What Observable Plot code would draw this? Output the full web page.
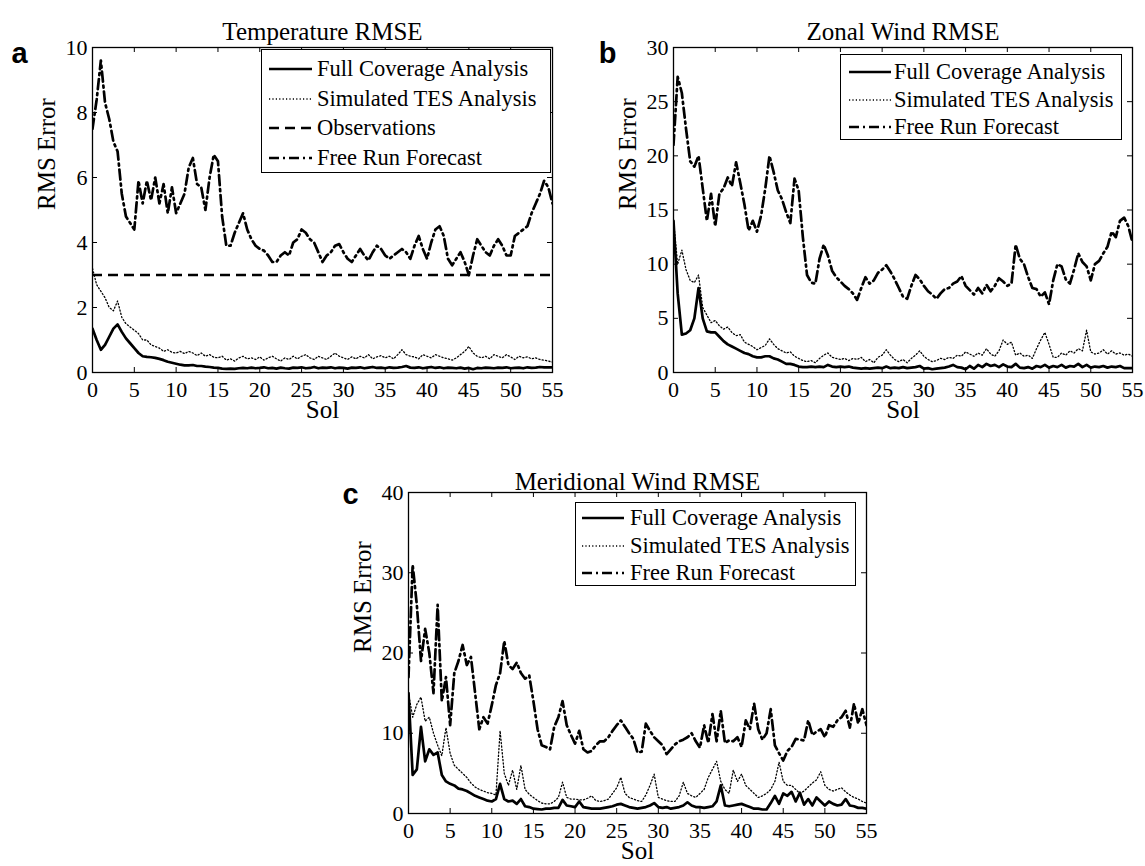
<!DOCTYPE html>
<html><head><meta charset="utf-8">
<script src="https://cdn.jsdelivr.net/npm/d3@7"></script>
<script src="https://cdn.jsdelivr.net/npm/@observablehq/plot@0.6"></script>
<style>
html,body{margin:0;padding:0;background:#fff;}
#page{position:relative;width:1145px;height:866px;overflow:hidden;background:#fff;font-family:"Liberation Serif","Times New Roman",serif;color:#000;}
.panel{position:absolute;}
.legend{position:absolute;background:#fff;border:1.4px solid #000;box-sizing:border-box;}
.legend .row{position:absolute;left:0;height:24px;white-space:nowrap;font-size:22.5px;line-height:24px;}
.legend .row svg{position:absolute;left:0;top:0;}
.legend .row span{position:absolute;top:0;}
</style></head><body><div id="page"></div><script>
// ---- tick labels ----
const xTicks = [0, 5, 10, 15, 20, 25, 30, 35, 40, 45, 50, 55];
const yTicksTemp = [0, 2, 4, 6, 8, 10];
const yTicksZonal = [0, 5, 10, 15, 20, 25, 30];
const yTicksMerid = [0, 10, 20, 30, 40];
const seriesNames = ["Full Coverage Analysis", "Simulated TES Analysis", "Observations", "Free Run Forecast"];

// ---- values every half sol, sol 0 .. 55 ----
const freeTemp = [
 7.5, 8.4, 9.6, 8.3, 7.8, 7.1, 6.8, 5.5, 4.8, 4.6,
 4.4, 5.9, 5.2, 5.9, 5.3, 6.0, 5.2, 5.8, 4.9, 5.7,
 4.9, 5.2, 5.5, 6.3, 6.6, 5.8, 5.7, 5.0, 6.0, 6.7,
 6.5, 4.8, 3.9, 3.9, 4.3, 4.6, 4.9, 4.4, 4.1, 3.9,
 3.8, 3.75, 3.6, 3.4, 3.4, 3.6, 3.7, 3.6, 4.0, 4.1,
 4.4, 4.3, 4.1, 4.0, 3.7, 3.4, 3.6, 3.7, 3.9, 3.95,
 3.7, 3.5, 3.4, 3.6, 3.8, 3.6, 3.45, 3.7, 3.9, 3.8,
 3.6, 3.5, 3.6, 3.7, 3.8, 3.7, 3.5, 3.9, 4.2, 3.8,
 3.5, 4.0, 4.4, 4.5, 4.2, 3.5, 3.3, 3.5, 3.7, 3.4,
 3.0, 3.6, 4.1, 3.9, 3.7, 3.6, 3.9, 4.1, 3.9, 3.6,
 3.6, 4.2, 4.3, 4.4, 4.5, 4.9, 5.2, 5.5, 5.9, 5.7,
 5.2];
const simTemp = [
 3.2, 2.7, 2.5, 2.3, 2.0, 1.9, 2.2, 1.7, 1.5, 1.4,
 1.3, 1.2, 1.0, 1.0, 0.85, 0.8, 0.75, 0.65, 0.7, 0.62,
 0.6, 0.65, 0.58, 0.65, 0.6, 0.52, 0.6, 0.5, 0.55, 0.47,
 0.45, 0.5, 0.38, 0.42, 0.35, 0.45, 0.5, 0.42, 0.45, 0.4,
 0.48, 0.38, 0.45, 0.5, 0.42, 0.35, 0.45, 0.4, 0.5, 0.42,
 0.5, 0.55, 0.45, 0.4, 0.5, 0.45, 0.4, 0.5, 0.6, 0.5,
 0.45, 0.4, 0.48, 0.42, 0.5, 0.45, 0.55, 0.42, 0.48, 0.52,
 0.45, 0.5, 0.42, 0.55, 0.7, 0.55, 0.5, 0.48, 0.42, 0.55,
 0.5, 0.45, 0.55, 0.5, 0.45, 0.42, 0.38, 0.45, 0.55, 0.65,
 0.8, 0.6, 0.5, 0.45, 0.5, 0.42, 0.55, 0.5, 0.45, 0.55,
 0.48, 0.4, 0.5, 0.45, 0.48, 0.42, 0.45, 0.4, 0.38, 0.35,
 0.32];
const fullTemp = [
 1.35, 1.0, 0.7, 0.85, 1.1, 1.35, 1.48, 1.25, 1.05, 0.9,
 0.75, 0.6, 0.5, 0.48, 0.47, 0.45, 0.42, 0.38, 0.33, 0.3,
 0.27, 0.24, 0.22, 0.22, 0.23, 0.2, 0.2, 0.18, 0.17, 0.15,
 0.14, 0.12, 0.11, 0.12, 0.11, 0.13, 0.14, 0.13, 0.15, 0.13,
 0.14, 0.16, 0.13, 0.14, 0.12, 0.15, 0.13, 0.12, 0.15, 0.14,
 0.16, 0.13, 0.14, 0.17, 0.13, 0.15, 0.14, 0.16, 0.13, 0.15,
 0.14, 0.12, 0.15, 0.14, 0.16, 0.13, 0.15, 0.17, 0.14, 0.15,
 0.13, 0.16, 0.14, 0.15, 0.17, 0.2, 0.15, 0.14, 0.16, 0.13,
 0.15, 0.17, 0.14, 0.16, 0.13, 0.15, 0.14, 0.13, 0.15, 0.12,
 0.14, 0.1, 0.14, 0.13, 0.15, 0.14, 0.13, 0.15, 0.14, 0.16,
 0.13, 0.14, 0.15, 0.13, 0.16, 0.14, 0.15, 0.17, 0.16, 0.16,
 0.16];
const obsTemp = 3.0;

const freeZonal = [
 21, 27.3, 25.8, 22.5, 19.5, 19.0, 20.0, 17.0, 14.0, 16.5,
 13.5, 16.5, 17.0, 18.0, 17.2, 19.4, 17.5, 15.5, 13.1, 14.0,
 13.0, 14.5, 17.0, 20.0, 18.5, 16.8, 16.0, 14.8, 13.8, 17.9,
 16.8, 12.5, 9.0, 8.3, 8.2, 10.5, 11.8, 10.8, 9.4, 8.8,
 8.4, 8.0, 7.7, 7.3, 6.7, 7.8, 8.8, 8.2, 8.5, 9.2,
 9.5, 9.9, 9.3, 8.6, 7.8, 7.0, 6.8, 8.0, 9.0, 8.6,
 8.0, 7.5, 7.2, 6.8, 7.3, 7.7, 7.8, 8.2, 8.4, 8.9,
 8.0, 7.6, 7.2, 7.8, 7.3, 8.1, 7.5, 8.0, 8.7, 8.4,
 8.0, 8.2, 11.8, 10.5, 10.0, 8.8, 7.8, 7.7, 7.0, 7.4,
 6.3, 8.5, 10.0, 9.8, 8.6, 8.2, 9.5, 11.0, 10.2, 9.8,
 8.5, 10.0, 10.3, 11.0, 11.6, 13.0, 12.5, 14.0, 14.3, 13.5,
 12.0];
const simZonal = [
 14, 10, 11.3, 9.5, 8.5, 8.3, 9.0, 6.0, 5.3, 4.6,
 4.8, 4.3, 4.0, 4.2, 3.7, 3.4, 3.5, 2.8, 2.6, 2.4,
 2.1, 2.3, 2.5, 3.1, 2.6, 2.2, 2.0, 1.8, 1.9, 1.5,
 1.3, 1.1, 1.0, 1.1, 0.9, 1.3, 1.6, 1.8, 1.4, 1.3,
 1.2, 1.3, 1.1, 1.3, 1.2, 1.4, 1.0, 1.2, 0.9, 1.4,
 1.6, 2.1, 1.6, 1.2, 1.0, 1.2, 0.9, 1.3, 1.6, 2.0,
 1.5, 1.2, 1.0, 1.1, 1.3, 1.2, 1.4, 1.3, 1.6, 1.5,
 1.9, 1.7, 1.5, 1.8, 1.6, 2.2, 1.7, 1.5, 2.0, 3.0,
 2.6, 2.8, 1.6, 1.8, 1.5, 1.6, 1.3, 2.2, 3.0, 3.7,
 2.6, 1.4, 1.4, 1.8, 1.6, 2.0, 1.8, 2.2, 2.0, 3.9,
 1.9, 1.7, 1.8, 2.1, 1.7, 2.0, 1.7, 1.8, 1.6, 1.7,
 1.5];
const fullZonal = [
 14, 7.3, 3.5, 3.6, 3.9, 5.0, 7.8, 5.0, 3.8, 3.7,
 3.7, 3.3, 2.9, 2.6, 2.4, 2.2, 2.0, 1.8, 1.7, 1.5,
 1.4, 1.4, 1.5, 1.5, 1.3, 1.2, 1.0, 0.8, 0.8, 0.7,
 0.55, 0.5, 0.5, 0.55, 0.5, 0.55, 0.5, 0.7, 0.55, 0.5,
 0.55, 0.5, 0.55, 0.45, 0.4, 0.35, 0.4, 0.35, 0.4, 0.45,
 0.4, 0.55, 0.4, 0.45, 0.4, 0.5, 0.4, 0.45, 0.5, 0.6,
 0.35, 0.4, 0.3, 0.35, 0.4, 0.45, 0.55, 0.7, 0.5, 0.45,
 0.3, 0.6, 0.35, 0.7, 0.5, 0.8, 0.6, 0.7, 0.5, 0.75,
 0.55, 0.5, 0.8, 0.45, 0.4, 0.5, 0.35, 0.6, 0.5, 0.7,
 0.45, 0.6, 0.5, 0.7, 0.45, 0.6, 0.55, 0.8, 0.5, 0.7,
 0.45, 0.55, 0.5, 0.6, 0.45, 0.55, 0.5, 0.6, 0.4, 0.4,
 0.4];

const freeMerid = [
 17, 31, 26, 19, 23, 20, 15, 26, 14, 17,
 11, 17.5, 19, 21, 18.5, 19.5, 15, 10.5, 12, 11.2,
 13.5, 16, 17.5, 21.5, 18.5, 18, 18.8, 17.5, 16.8, 17.2,
 14, 10.5, 8.5, 8.3, 8.0, 10.8, 12, 14, 11, 9.8,
 8.7, 10.3, 8.0, 7.6, 7.8, 8.5, 9.0, 9.0, 9.5, 10.3,
 11.0, 11.6, 10.8, 10.0, 9.3, 7.6, 7.7, 11.2, 10.3, 9.5,
 9.0, 8.5, 7.4, 8.0, 8.6, 9.0, 9.2, 9.5, 10.0, 9.0,
 8.2, 11.0, 8.8, 12.4, 9.0, 12.8, 8.8, 9.1, 9.0, 9.5,
 8.3, 11.6, 10.5, 13.7, 10.5, 9.2, 10, 13.0, 8.5, 7.5,
 6.6, 7.8, 8.3, 9.3, 9.2, 9.1, 11.6, 9.8, 10.2, 10.5,
 9.5, 11.0, 10.8, 11.6, 12.0, 12.8, 10.7, 13.7, 11.2, 13.0,
 11.0];
const simMerid = [
 15, 12, 13.6, 14.5, 11.5, 12, 10, 8.5, 7.2, 10.7,
 7.5, 6.0, 5.5, 5.0, 4.5, 3.8, 3.3, 3.0, 2.8, 2.6,
 2.5, 2.3, 10.3, 5.0, 3.5, 5.4, 3.0, 6.0, 3.0, 2.4,
 2.0, 1.6, 1.3, 1.2, 1.2, 1.5, 2.0, 3.9, 2.0, 1.8,
 1.8, 1.7, 1.7, 1.9, 2.2, 1.6, 1.5, 1.6, 1.8, 2.5,
 3.2, 4.5, 2.5, 2.0, 1.8, 1.6, 1.5, 2.3, 3.5, 4.9,
 2.0, 1.8, 1.6, 1.5, 1.5, 2.2, 3.9, 2.5, 2.2, 2.0,
 2.5, 3.0, 4.5, 5.5, 6.5, 4.0, 3.0, 2.5, 5.4, 4.0,
 4.9, 3.5, 3.0, 2.5, 2.0, 2.2, 2.5, 3.0, 4.0, 6.4,
 4.0, 3.5, 3.5, 3.0, 2.5, 2.8, 3.3, 3.8, 4.2, 5.2,
 3.5, 3.0, 2.8, 3.0, 3.2, 2.7, 2.3, 2.0, 1.8, 1.5,
 1.3];
const fullMerid = [
 15, 4.8, 5.5, 10.8, 6.5, 8.0, 7.3, 7.6, 4.8, 4.0,
 3.7, 3.5, 3.1, 3.0, 2.8, 2.5, 2.2, 2.0, 1.8, 1.6,
 1.5, 1.8, 3.7, 1.8, 1.5, 1.6, 1.2, 1.8, 0.9, 0.8,
 0.6, 0.55, 0.5, 0.6, 0.6, 0.7, 0.7, 1.7, 1.0, 0.9,
 0.8, 1.5, 0.8, 0.7, 0.6, 0.6, 0.6, 0.7, 0.8, 0.9,
 1.1, 1.2, 1.0, 0.8, 0.7, 0.6, 0.7, 0.8, 1.0, 1.3,
 0.8, 0.7, 0.8, 0.6, 0.7, 0.8, 1.0, 1.4, 1.0, 0.8,
 0.8, 0.7, 0.8, 0.9, 1.5, 3.5, 1.0, 0.9, 1.0, 1.1,
 1.2, 1.0, 0.8, 0.6, 0.6, 0.5, 0.5, 1.3, 2.2, 1.2,
 2.5, 2.2, 2.7, 1.5, 2.6, 1.1, 1.8, 1.0, 2.0, 1.5,
 1.0, 1.5, 1.2, 1.0, 1.1, 1.8, 1.0, 0.9, 0.7, 0.7,
 0.6];

// ---- styles ----
const STY = {
  full: {strokeWidth: 2.7, dash: null},
  sim:  {strokeWidth: 1.3, dash: "1.2,2.2"},
  obs:  {strokeWidth: 2.6, dash: "10,6"},
  free: {strokeWidth: 2.7, dash: "10,4,2,4"}
};
const serif = '"Liberation Serif","Times New Roman",serif';
const sans = '"Liberation Sans",Arial,sans-serif';

function toRows(vals) { return vals.map((v, i) => ({sol: i * 0.5, value: v})); }

const page = document.getElementById("page");

function panel(cfg) {
  const m = cfg.margin;
  const W = cfg.width - m.left - m.right;
  const H = cfg.height - m.top - m.bottom;
  const marks = [];
  for (const s of cfg.series) {
    const st = STY[s.kind];
    marks.push(Plot.line(toRows(s.values), {x: "sol", y: "value", stroke: "#000", strokeWidth: st.strokeWidth, strokeDasharray: st.dash, strokeLinejoin: "round", clip: true}));
    if (s.kind === "full" && cfg.obs != null) {
      marks.push(Plot.ruleY([cfg.obs], {y: d => d, stroke: "#000", strokeWidth: STY.obs.strokeWidth, strokeDasharray: STY.obs.dash}));
    }
  }
  // inward ticks on all four sides
  marks.push(Plot.tickX(xTicks, {x: d => d, stroke: "#000", insetTop: H - 5}));
  marks.push(Plot.tickX(xTicks, {x: d => d, stroke: "#000", insetBottom: H - 5}));
  marks.push(Plot.tickY(cfg.yTicks, {y: d => d, stroke: "#000", insetRight: W - 5}));
  marks.push(Plot.tickY(cfg.yTicks, {y: d => d, stroke: "#000", insetLeft: W - 5}));
  marks.push(Plot.frame({stroke: "#000", strokeWidth: 1.3}));
  marks.push(Plot.axisX(xTicks, {tickSize: 0, tickPadding: 9, fontSize: 22, label: null}));
  marks.push(Plot.axisY(cfg.yTicks, {tickSize: 0, tickPadding: 5, fontSize: 22, label: null}));
  marks.push(Plot.text([cfg.title], {text: d => d, frameAnchor: "top", dy: cfg.titleDy, fontSize: 25, fontFamily: serif, fill: "#000"}));
  marks.push(Plot.text(["Sol"], {text: d => d, frameAnchor: "bottom", dy: cfg.solDy, fontSize: 25, fontFamily: serif, fill: "#000"}));
  marks.push(Plot.text(["RMS Error"], {text: d => d, frameAnchor: "left", dx: -46, rotate: -90, fontSize: 25, fontFamily: serif, fill: "#000"}));
  marks.push(Plot.text([cfg.letter], {text: d => d, frameAnchor: "top-left", dx: cfg.letterDx, dy: cfg.letterDy, fontSize: 29, fontWeight: "bold", fontFamily: sans, textAnchor: "middle", fill: "#000"}));

  const svg = Plot.plot({
    width: cfg.width, height: cfg.height,
    marginTop: m.top, marginRight: m.right, marginBottom: m.bottom, marginLeft: m.left,
    x: {domain: [0, 55]},
    y: {domain: cfg.yDomain},
    style: {fontFamily: serif, fontSize: "22px", color: "#000", background: "transparent", overflow: "visible"},
    marks
  });
  const div = document.createElement("div");
  div.className = "panel";
  div.style.left = cfg.left + "px"; div.style.top = cfg.top + "px";
  div.style.width = cfg.width + "px"; div.style.height = cfg.height + "px";
  div.appendChild(svg);
  page.appendChild(div);
}

function legend(cfg) {
  const box = document.createElement("div");
  box.className = "legend";
  Object.assign(box.style, {left: cfg.left + "px", top: cfg.top + "px", width: cfg.width + "px", height: cfg.height + "px"});
  cfg.items.forEach((it, i) => {
    const row = document.createElement("div");
    row.className = "row";
    row.style.top = (cfg.first + i * cfg.gap - 12) + "px";
    row.style.width = (cfg.width - 4) + "px";
    const st = STY[it.kind];
    const ns = "http://www.w3.org/2000/svg";
    const s = document.createElementNS(ns, "svg");
    s.setAttribute("width", cfg.textX); s.setAttribute("height", 24);
    const ln = document.createElementNS(ns, "line");
    ln.setAttribute("x1", cfg.lineX0); ln.setAttribute("x2", cfg.lineX1);
    ln.setAttribute("y1", 12); ln.setAttribute("y2", 12);
    ln.setAttribute("stroke", "#000"); ln.setAttribute("stroke-width", st.strokeWidth);
    if (st.dash) ln.setAttribute("stroke-dasharray", st.dash);
    s.appendChild(ln);
    row.appendChild(s);
    const sp = document.createElement("span");
    sp.textContent = it.name;
    sp.style.left = cfg.textX + "px";
    row.appendChild(sp);
    box.appendChild(row);
  });
  page.appendChild(box);
}

panel({left: 0, top: 0, width: 560, height: 430, margin: {top: 47, right: 8, bottom: 58, left: 92},
  yDomain: [0, 10], yTicks: yTicksTemp, title: "Temperature RMSE", titleDy: -25, solDy: 45, letter: "a", letterDx: -73, letterDy: -5,
  obs: obsTemp,
  series: [{kind: "full", values: fullTemp}, {kind: "sim", values: simTemp}, {kind: "free", values: freeTemp}]});
panel({left: 580, top: 0, width: 565, height: 430, margin: {top: 47, right: 13, bottom: 58, left: 93},
  yDomain: [0, 30], yTicks: yTicksZonal, title: "Zonal Wind RMSE", titleDy: -25, solDy: 45, letter: "b", letterDx: -66, letterDy: -5,
  series: [{kind: "full", values: fullZonal}, {kind: "sim", values: simZonal}, {kind: "free", values: freeZonal}]});
panel({left: 330, top: 440, width: 560, height: 426, margin: {top: 52, right: 24, bottom: 53, left: 78},
  yDomain: [0, 40], yTicks: yTicksMerid, title: "Meridional Wind RMSE", titleDy: -20, solDy: 45, letter: "c", letterDx: -58, letterDy: -9,
  series: [{kind: "full", values: fullMerid}, {kind: "sim", values: simMerid}, {kind: "free", values: freeMerid}]});

legend({left: 261, top: 49, width: 290, height: 124, first: 19, gap: 29.7, lineX0: 7, lineX1: 50, textX: 55,
  items: [{kind: "full", name: seriesNames[0]}, {kind: "sim", name: seriesNames[1]}, {kind: "obs", name: seriesNames[2]}, {kind: "free", name: seriesNames[3]}]});
legend({left: 840, top: 54, width: 282, height: 86, first: 17, gap: 27.5, lineX0: 8, lineX1: 50, textX: 53,
  items: [{kind: "full", name: seriesNames[0]}, {kind: "sim", name: seriesNames[1]}, {kind: "free", name: seriesNames[3]}]});
legend({left: 575, top: 502, width: 281, height: 84, first: 15, gap: 27.5, lineX0: 6, lineX1: 48, textX: 54,
  items: [{kind: "full", name: seriesNames[0]}, {kind: "sim", name: seriesNames[1]}, {kind: "free", name: seriesNames[3]}]});
</script></body></html>
